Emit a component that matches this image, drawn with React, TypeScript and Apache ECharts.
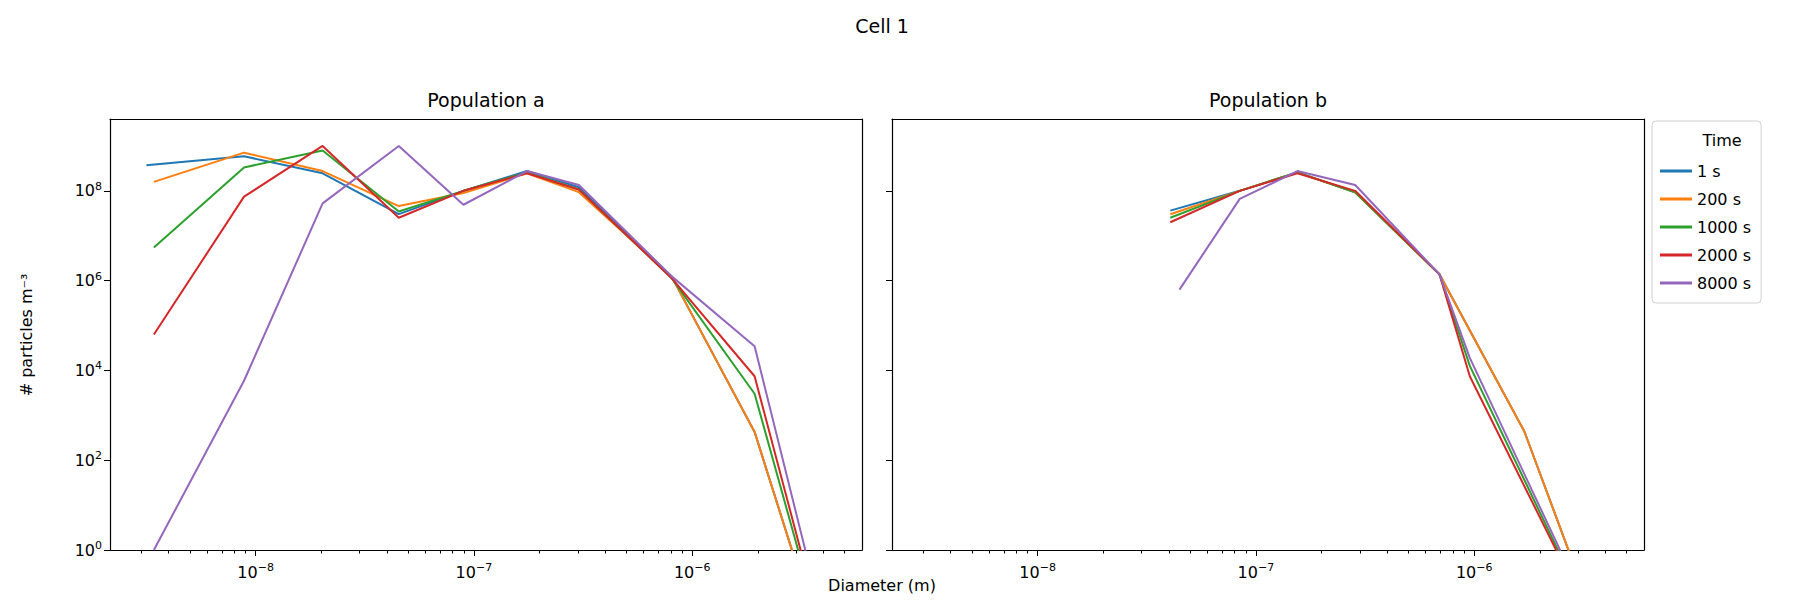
import { useEffect, useRef } from "react";
import * as echarts from "echarts";

// log10 of diameter (m) and log10 of # particles m^-3
const SERIES_NAMES = ["1 s", "200 s", "1000 s", "2000 s", "8000 s"];
const COLORS = ["#1f77b4", "#ff7f0e", "#2ca02c", "#d62728", "#9467bd"];

const X_A = [-8.466, -8.053, -7.693, -7.344, -7.048, -6.757, -6.519, -6.095, -5.714, -5.4];
const X_A1 = [-8.5, -8.053, -7.693, -7.344, -7.048, -6.757, -6.519, -6.095, -5.714, -5.4];
const A_1S = [8.57, 8.77, 8.39, 7.48, 8.0, 8.44, 8.08, 6.1, 2.63, -2.2];
const A_200S = [8.2, 8.85, 8.44, 7.66, 7.95, 8.39, 7.97, 6.1, 2.63, -2.2];
const A_1000S = [6.74, 8.52, 8.9, 7.54, 8.0, 8.41, 8.03, 6.06, 3.48, -2.0];
const A_2000S = [4.8, 7.87, 9.0, 7.4, 8.0, 8.39, 8.03, 6.06, 3.87, -1.9];
const A_8000S = [0.0, 3.77, 7.72, 9.0, 7.69, 8.44, 8.13, 6.1, 4.54, -1.6];

const X_B = [-7.392, -7.074, -6.81, -6.545, -6.159, -6.02, -5.77, -5.4];
const B_1S = [7.56, 8.0, 8.41, 7.97, 6.14, null, 2.64, -2.2];
const B_200S = [7.48, 8.0, 8.41, 7.97, 6.14, null, 2.64, -2.2];
const B_1000S = [7.4, 8.0, 8.41, 7.97, 6.14, 4.1, null, -2.2];
const B_2000S = [7.3, 8.0, 8.39, 8.0, 6.14, 3.87, null, -2.2];
const X_B8000 = [-7.35, -7.074, -6.81, -6.545, -6.159, -6.02, -5.4];
const B_8000S = [5.8, 7.82, 8.44, 8.13, 6.14, 4.28, -2.14];

const X_MAJOR = [-8, -7, -6];
const Y_MAJOR = [0, 2, 4, 6, 8];

const X_MIN = -8.667;
const X_MAX = -5.222;

function minorTicks(): number[] {
  const out: number[] = [];
  for (let e = -9; e <= -6; e++) {
    for (let k = 2; k <= 9; k++) {
      const v = e + Math.log10(k);
      if (v > X_MIN && v < X_MAX) out.push(v);
    }
  }
  return out;
}

const pairs = (xs: number[], ys: (number | null)[]) =>
  xs.map((x, i) => [x, ys[i]]).filter((p) => p[1] !== null);

export default function App() {
  const ref = useRef<HTMLDivElement>(null);

  useEffect(() => {
    if (!ref.current) return;
    const chart = echarts.init(ref.current, null, { renderer: "svg" });
    const font = "DejaVu Sans";
    const sup = { sup: { fontSize: 11, verticalAlign: "top", padding: [0, 0, 9, 0], fontFamily: font, color: "#000" } };
    const grids = [
      { left: 110, top: 119, width: 752, height: 431 },
      { left: 892, top: 119, width: 752, height: 431 },
    ];
    const minors = minorTicks();
    const xAxes: any[] = [];
    const yAxes: any[] = [];
    [0, 1].forEach((g) => {
      xAxes.push({
        type: "value", gridIndex: g, min: X_MIN, max: X_MAX,
        axisLine: { show: true, onZero: false, lineStyle: { color: "#000", width: 1.2 } },
        axisTick: { show: true, length: 6, customValues: X_MAJOR, lineStyle: { color: "#000" } },
        axisLabel: {
          customValues: X_MAJOR, margin: 12, color: "#000", fontFamily: font, fontSize: 16,
          formatter: (v: number) => `10{sup|−${Math.round(-v)}}`, rich: sup,
        },
        splitLine: { show: false },
      });
      yAxes.push({
        type: "value", gridIndex: g, min: 0, max: 9.6, interval: 2,
        axisLine: { show: true, onZero: false, lineStyle: { color: "#000", width: 1.2 } },
        axisTick: { show: true, length: 6, customValues: Y_MAJOR, lineStyle: { color: "#000" } },
        axisLabel: {
          show: g === 0, customValues: Y_MAJOR, color: "#000", fontFamily: font, fontSize: 16,
          formatter: (v: number) => `10{sup|${Math.round(v)}}`, rich: sup,
        },
        splitLine: { show: false },
      });
      // right/top frame
      xAxes.push({
        type: "value", gridIndex: g, min: X_MIN, max: X_MAX, position: "top",
        axisLine: { show: true, onZero: false, lineStyle: { color: "#000", width: 1.2 } },
        axisTick: { show: false }, axisLabel: { show: false }, splitLine: { show: false },
      });
      yAxes.push({
        type: "value", gridIndex: g, min: 0, max: 9.6, position: "right",
        axisLine: { show: true, onZero: false, lineStyle: { color: "#000", width: 1.2 } },
        axisTick: { show: false }, axisLabel: { show: false }, splitLine: { show: false },
      });
      // minor ticks
      xAxes.push({
        type: "value", gridIndex: g, min: X_MIN, max: X_MAX, position: "bottom",
        axisLine: { show: false },
        axisTick: { show: true, length: 3.5, customValues: minors, lineStyle: { color: "#000" } },
        axisLabel: { show: false }, splitLine: { show: false },
      });
    });

    const mk = (name: string, idx: number, g: number, data: any[]) => ({
      name, type: "line", xAxisIndex: g * 3, yAxisIndex: g * 2, data,
      showSymbol: false, symbol: "none", clip: true,
      lineStyle: { color: COLORS[idx], width: 2 }, itemStyle: { color: COLORS[idx] },
    });
    const aData = [
      pairs(X_A1, A_1S), pairs(X_A, A_200S), pairs(X_A, A_1000S),
      pairs(X_A, A_2000S), pairs(X_A, A_8000S),
    ];
    const bData = [
      pairs(X_B, B_1S), pairs(X_B, B_200S), pairs(X_B, B_1000S),
      pairs(X_B, B_2000S), pairs(X_B8000, B_8000S),
    ];
    const series: any[] = [];
    SERIES_NAMES.forEach((n, i) => series.push(mk(n, i, 0, aData[i])));
    SERIES_NAMES.forEach((n, i) => series.push(mk(n, i, 1, bData[i])));

    chart.setOption({
      animation: false,
      backgroundColor: "#fff",
      grid: grids,
      xAxis: xAxes,
      yAxis: yAxes,
      series,
      legend: {
        data: SERIES_NAMES, orient: "vertical", left: 1652, top: 121,
        width: 147, borderColor: "#d0d0d0", borderWidth: 1, borderRadius: 4,
        padding: [42, 10, 12, 8], itemGap: 12, itemWidth: 32, itemHeight: 3,
        icon: "rect", textStyle: { fontFamily: font, fontSize: 16, color: "#000" },
      },
      graphic: [
        { type: "text", x: 882, y: 26, style: { text: "Cell 1", font: `19px ${font}`, fill: "#000", align: "center", verticalAlign: "middle" } },
        { type: "text", x: 486, y: 100, style: { text: "Population a", font: `19px ${font}`, fill: "#000", align: "center", verticalAlign: "middle" } },
        { type: "text", x: 1268, y: 100, style: { text: "Population b", font: `19px ${font}`, fill: "#000", align: "center", verticalAlign: "middle" } },
        { type: "text", x: 882, y: 585, style: { text: "Diameter (m)", font: `16px ${font}`, fill: "#000", align: "center", verticalAlign: "middle" } },
        { type: "text", x: 1722, y: 140, style: { text: "Time", font: `16px ${font}`, fill: "#000", align: "center", verticalAlign: "middle" } },
        { type: "text", x: 26, y: 335, rotation: Math.PI / 2, style: { text: "# particles m⁻³", font: `16px ${font}`, fill: "#000", align: "center", verticalAlign: "middle" } },
      ],
    });
    return () => chart.dispose();
  }, []);

  return (
    <div ref={ref} style={{ position: "absolute", left: 0, top: 0, width: 1810, height: 610 }} />
  );
}
